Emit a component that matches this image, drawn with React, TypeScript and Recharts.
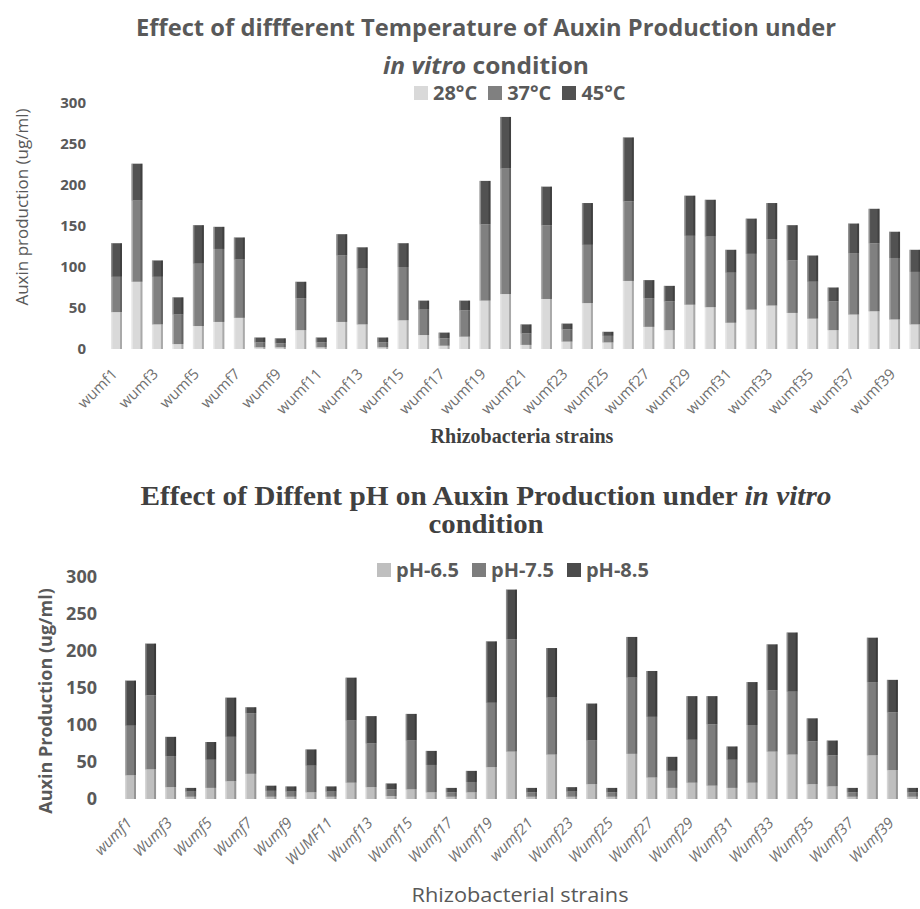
import React from "react";
import { BarChart, Bar, XAxis, YAxis, Legend } from "recharts";

const tempStrains = ["wumf1","wumf2","wumf3","wumf4","wumf5","wumf6","wumf7","wumf8","wumf9","wumf10","wumf11","wumf12","wumf13","wumf14","wumf15","wumf16","wumf17","wumf18","wumf19","wumf20","wumf21","wumf22","wumf23","wumf24","wumf25","wumf26","wumf27","wumf28","wumf29","wumf30","wumf31","wumf32","wumf33","wumf34","wumf35","wumf36","wumf37","wumf38","wumf39","wumf40"];
const t28 = [45, 82, 30, 6, 28, 33, 38, 2, 2, 23, 2, 33, 30, 2, 35, 17, 4, 15, 59, 67, 5, 61, 9, 56, 8, 83, 27, 23, 54, 51, 32, 48, 53, 44, 37, 23, 42, 46, 36, 30];
const t37 = [43, 99, 58, 36, 76, 89, 71, 6, 5, 39, 6, 81, 68, 6, 65, 31, 9, 32, 93, 153, 14, 90, 15, 71, 8, 97, 35, 35, 84, 86, 61, 68, 81, 64, 45, 35, 75, 83, 75, 64];
const t45 = [41, 45, 20, 21, 47, 27, 27, 6, 6, 20, 6, 26, 26, 6, 29, 11, 7, 12, 53, 63, 11, 47, 7, 51, 5, 78, 22, 19, 49, 45, 28, 43, 44, 43, 32, 17, 36, 42, 32, 27];

const phStrains = ["wumf1","Wumf2","Wumf3","Wumf4","Wumf5","Wumf6","Wumf7","Wumf8","Wumf9","Wumf10","WUMF11","Wumf12","Wumf13","Wumf14","Wumf15","Wumf16","Wumf17","Wumf18","Wumf19","Wumf20","wumf21","Wumf22","Wumf23","Wumf24","Wumf25","Wumf26","Wumf27","Wumf28","Wumf29","Wumf30","Wumf31","Wumf32","Wumf33","Wumf34","Wumf35","Wumf36","Wumf37","Wumf38","Wumf39","Wumf40"];
const p65 = [32, 40, 16, 3, 15, 24, 34, 3, 3, 9, 3, 22, 16, 4, 13, 9, 3, 9, 43, 64, 3, 60, 3, 20, 3, 61, 29, 15, 22, 18, 15, 22, 64, 60, 20, 17, 3, 59, 39, 3];
const p75 = [67, 100, 42, 7, 38, 60, 82, 8, 7, 36, 7, 84, 59, 9, 66, 37, 6, 14, 87, 152, 6, 77, 7, 59, 6, 103, 82, 23, 58, 83, 38, 78, 83, 85, 58, 42, 6, 99, 78, 6];
const p85 = [61, 70, 26, 5, 24, 53, 8, 7, 7, 22, 7, 58, 37, 8, 36, 19, 6, 15, 83, 67, 6, 67, 6, 50, 6, 55, 62, 19, 59, 38, 18, 58, 62, 80, 31, 20, 6, 60, 44, 6];

const yTicks = [0, 50, 100, 150, 200, 250, 300];

const tempData = tempStrains.map((s, i) => ({ strain: s, t28: t28[i], t37: t37[i], t45: t45[i] }));
const phData = phStrains.map((s, i) => ({ strain: s, p65: p65[i], p75: p75[i], p85: p85[i] }));

const SANS = "'Open Sans', 'Noto Sans', sans-serif";
const SERIF = "'Liberation Serif', 'DejaVu Serif', serif";

const TopTick = (props: any) => {
  const { x, y, payload } = props;
  const ax = x + 2;
  const ay = y + 18;
  return (
    <text x={ax} y={ay} transform={`rotate(-45 ${ax} ${ay})`} textAnchor="end" fontSize={15} fill="#707070" fontFamily={SANS}>
      {payload.value}
    </text>
  );
};

const BottomTick = (props: any) => {
  const { x, y, payload } = props;
  const ax = x + 3;
  const ay = y + 17;
  return (
    <text x={ax} y={ay} transform={`rotate(-45 ${ax} ${ay})`} textAnchor="end" fontSize={15} fontStyle="italic" fill="#707070" fontFamily={SANS}>
      {payload.value}
    </text>
  );
};

const ShadedBar = (props: any) => {
  const { x, y, width, height, fill } = props;
  if (!height || height <= 0) return null;
  return (
    <g>
      <rect x={x} y={y} width={width} height={height} fill={fill} />
      <rect x={x} y={y} width={1.5} height={height} fill="#ffffff" fillOpacity={0.35} />
      <rect x={x + width - 2} y={y} width={2} height={height} fill="#000000" fillOpacity={0.22} />
    </g>
  );
};

const makeLegend = (fontSize: number, sw: number, gap: number) => (props: any) => {
  const { payload } = props;
  return (
    <div style={{ display: "flex", alignItems: "center", fontFamily: SANS, fontWeight: 700, fontSize, color: "#595959", whiteSpace: "nowrap" }}>
      {payload.map((p: any) => (
        <div key={p.value} style={{ display: "flex", alignItems: "center", marginRight: gap }}>
          <span style={{ display: "inline-block", width: sw, height: sw, background: p.color, marginRight: 5 }} />
          <span>{p.value}</span>
        </div>
      ))}
    </div>
  );
};

export default function App() {
  return (
    <div style={{ position: "fixed", left: 0, top: 0, width: 920, height: 909, overflow: "hidden", background: "#ffffff" }}>
      <div style={{ position: "absolute", left: 0, top: 0 }}>
        <BarChart width={940} height={450} data={tempData} margin={{ top: 103, right: 15, left: 0, bottom: 0 }}>
          <XAxis dataKey="strain" interval={1} tick={<TopTick />} height={101} axisLine={false} tickLine={false} />
          <YAxis domain={[0, 300]} ticks={yTicks} width={106} axisLine={false} tickLine={false} tickMargin={14}
            tick={{ fontSize: 15, fontWeight: 700, fill: "#595959", fontFamily: SANS }} />
          <Legend layout="horizontal" verticalAlign="middle" align="center" content={makeLegend(20, 14, 11)}
            wrapperStyle={{ position: "absolute", top: 79, left: 414, width: 280, height: 26 }} />
          <Bar dataKey="t28" name="28°C" stackId="a" fill="#d9d9d9" barSize={11} shape={<ShadedBar />} isAnimationActive={false} />
          <Bar dataKey="t37" name="37°C" stackId="a" fill="#808080" barSize={11} shape={<ShadedBar />} isAnimationActive={false} />
          <Bar dataKey="t45" name="45°C" stackId="a" fill="#525252" barSize={11} shape={<ShadedBar />} isAnimationActive={false} />
        </BarChart>
      </div>
      <div style={{ position: "absolute", left: 0, top: 450 }}>
        <BarChart width={940} height={459} data={phData} margin={{ top: 127, right: 18, left: 0, bottom: 0 }}>
          <XAxis dataKey="strain" interval={1} tick={<BottomTick />} height={110} axisLine={false} tickLine={false} />
          <YAxis domain={[0, 300]} ticks={yTicks} width={120} axisLine={false} tickLine={false} tickMargin={17}
            tick={{ fontSize: 18, fontWeight: 700, fill: "#595959", fontFamily: SANS }} />
          <Legend layout="horizontal" verticalAlign="middle" align="center" content={makeLegend(20, 14, 13)}
            wrapperStyle={{ position: "absolute", top: 106, left: 377, width: 340, height: 26 }} />
          <Bar dataKey="p65" name="pH-6.5" stackId="b" fill="#bfbfbf" barSize={11} shape={<ShadedBar />} isAnimationActive={false} />
          <Bar dataKey="p75" name="pH-7.5" stackId="b" fill="#7d7d7d" barSize={11} shape={<ShadedBar />} isAnimationActive={false} />
          <Bar dataKey="p85" name="pH-8.5" stackId="b" fill="#4b4b4b" barSize={11} shape={<ShadedBar />} isAnimationActive={false} />
        </BarChart>
      </div>
      <svg width={920} height={909} style={{ position: "absolute", left: 0, top: 0, pointerEvents: "none" }}>
        <text x={486} y={36} textAnchor="middle" fontFamily={SANS} fontWeight={700} fontSize={23} fill="#595959" textLength={700} lengthAdjust="spacingAndGlyphs">
          Effect of diffferent Temperature of Auxin Production under
        </text>
        <text x={486} y={74} textAnchor="middle" fontFamily={SANS} fontWeight={700} fontSize={23} fill="#595959" textLength={206} lengthAdjust="spacingAndGlyphs">
          <tspan fontStyle="italic">in vitro</tspan> condition
        </text>
        <text x={28} y={207} transform="rotate(-90 28 207)" textAnchor="middle" fontFamily={SANS} fontSize={17} fill="#595959">
          Auxin production (ug/ml)
        </text>
        <text x={522} y={443} textAnchor="middle" fontFamily={SERIF} fontWeight={700} fontSize={20} fill="#404040">
          Rhizobacteria strains
        </text>
        <text x={486} y={505} textAnchor="middle" fontFamily={SERIF} fontWeight={700} fontSize={28} fill="#404040" textLength={691} lengthAdjust="spacingAndGlyphs">
          Effect of Diffent pH on  Auxin Production under <tspan fontStyle="italic">in vitro</tspan>
        </text>
        <text x={486} y={533} textAnchor="middle" fontFamily={SERIF} fontWeight={700} fontSize={28} fill="#404040" textLength={115} lengthAdjust="spacingAndGlyphs">
          condition
        </text>
        <text x={52} y={701} transform="rotate(-90 52 701)" textAnchor="middle" fontFamily={SANS} fontWeight={700} fontSize={18} fill="#595959">
          Auxin Production (ug/ml)
        </text>
        <text x={520} y={902} textAnchor="middle" fontFamily={SANS} fontSize={20} fill="#595959" textLength={217} lengthAdjust="spacingAndGlyphs">
          Rhizobacterial strains
        </text>
      </svg>
    </div>
  );
}
